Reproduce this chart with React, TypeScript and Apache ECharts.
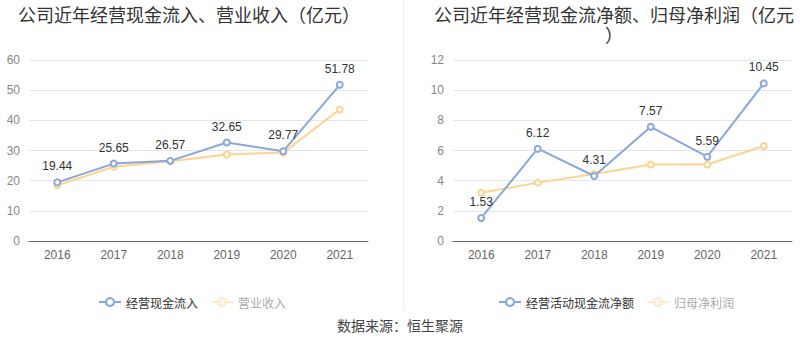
import React, { useEffect, useRef } from "react";
import * as echarts from "echarts";

const years = ["2016", "2017", "2018", "2019", "2020", "2021"];
const cashInflow = [19.44, 25.65, 26.57, 32.65, 29.77, 51.78];
const revenue = [18.5, 24.6, 26.4, 28.7, 29.3, 43.6];
const netCashFlow = [1.53, 6.12, 4.31, 7.57, 5.59, 10.45];
const netProfit = [3.2, 3.87, 4.44, 5.07, 5.07, 6.3];

const leftTitle = "公司近年经营现金流入、营业收入（亿元）";
const rightTitle = "公司近年经营现金流净额、归母净利润（亿元）";
const sourceText = "数据来源：恒生聚源";

const BLUE = "#88a8dc";
const YELLOW = "#fdd38f";
const FONT = '"Liberation Sans", "Noto Sans CJK SC", sans-serif';
const CJK = '"Noto Sans CJK SC", "Noto Sans", sans-serif';

export default function App() {
  const ref = useRef<HTMLDivElement>(null);
  useEffect(() => {
    if (!ref.current) return;
    const chart = echarts.init(ref.current, undefined, { renderer: "svg" });
    const xAxisBase = (gridIndex: number) => ({
      type: "category",
      gridIndex,
      data: years,
      boundaryGap: true,
      axisLine: { lineStyle: { color: "#666" } },
      axisTick: { alignWithLabel: true, length: 5, lineStyle: { color: "#666" } },
      axisLabel: { color: "#666", fontSize: 12, margin: 8, fontFamily: FONT },
    });
    const yAxisBase = (gridIndex: number, max: number, interval: number) => ({
      type: "value",
      gridIndex,
      min: 0,
      max,
      interval,
      axisLine: { show: false },
      axisTick: { show: false },
      axisLabel: { color: "#888", fontSize: 12, margin: 9, fontFamily: FONT },
      splitLine: { lineStyle: { color: "#e0e6f1" } },
    });
    const lineSeries = (name: string, data: number[], color: string, idx: number, label: boolean) => ({
      type: "line",
      name,
      data,
      xAxisIndex: idx,
      yAxisIndex: idx,
      symbol: "emptyCircle",
      symbolSize: 6,
      lineStyle: { color, width: 2 },
      itemStyle: { color, borderWidth: 2 },
      z: label ? 3 : 2,
      label: {
        show: label,
        position: "top",
        distance: 6,
        color: "#333",
        fontSize: 12,
        fontFamily: FONT,
      },
    });
    const legendBase = (left: number, a: string, b: string) => ({
      left,
      top: 291,
      itemWidth: 22,
      itemHeight: 10,
      itemGap: 12,
      textStyle: { fontSize: 12, color: "#333", fontFamily: CJK },
      data: [
        { name: a },
        {
          name: b,
          itemStyle: { opacity: 0.45 },
          lineStyle: { opacity: 0.45 },
          textStyle: { color: "#aaa" },
        },
      ],
    });
    chart.setOption({
      animation: false,
      textStyle: { fontFamily: FONT },
      grid: [
        { left: 29, right: 432, top: 60, bottom: 117 },
        { left: 453, right: 8, top: 60, bottom: 117 },
      ],
      xAxis: [xAxisBase(0), xAxisBase(1)],
      yAxis: [yAxisBase(0, 60, 10), yAxisBase(1, 12, 2)],
      legend: [
        { ...legendBase(93, "经营现金流入", "营业收入") },
        { ...legendBase(493, "经营活动现金流净额", "归母净利润") },
      ],
      series: [
        lineSeries("经营现金流入", cashInflow, BLUE, 0, true),
        lineSeries("营业收入", revenue, YELLOW, 0, false),
        lineSeries("经营活动现金流净额", netCashFlow, BLUE, 1, true),
        lineSeries("归母净利润", netProfit, YELLOW, 1, false),
      ],
      graphic: [
        {
          type: "text",
          x: 18,
          y: 5,
          style: {
            text: leftTitle,
            fill: "#333",
            font: `18px ${CJK}`,
            lineHeight: 18,
          },
        },
        {
          type: "text",
          x: 614,
          y: 4,
          style: {
            text: rightTitle,
            fill: "#333",
            font: `18px ${CJK}`,
            width: 368,
            overflow: "break",
            align: "center",
            lineHeight: 20,
          },
        },
        {
          type: "line",
          shape: { x1: 403.5, y1: 0, x2: 403.5, y2: 310 },
          style: { stroke: "#eeeeee", lineWidth: 1 },
        },
        {
          type: "text",
          x: 400,
          y: 318,
          style: {
            text: sourceText,
            fill: "#444",
            font: `14px ${CJK}`,
            align: "center",
          },
        },
      ],
    });
    return () => chart.dispose();
  }, []);
  return (
    <div
      ref={ref}
      style={{ position: "fixed", left: 0, top: 0, width: 800, height: 358, background: "#fff" }}
    />
  );
}
